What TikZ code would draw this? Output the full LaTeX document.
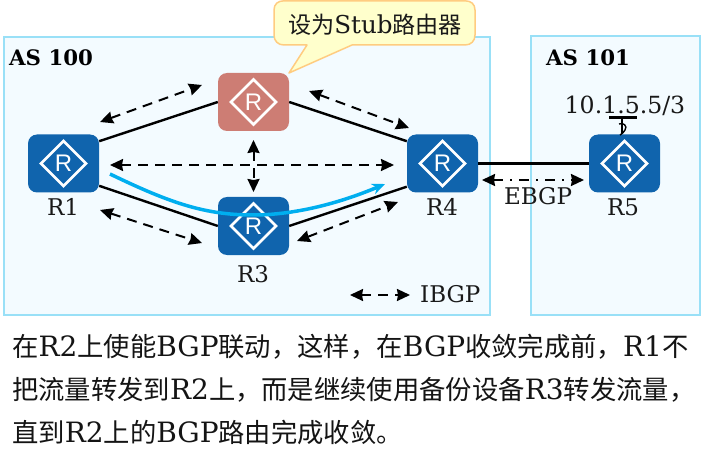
\documentclass[tikz,border=0pt]{standalone}
\usepackage{fontspec}
\setmainfont{DejaVu Serif}
\newfontfamily\cjk[Scale=0.94]{Noto Sans CJK SC}
\newfontfamily\iconfont{Liberation Sans}
\newcommand{\cj}[1]{{\cjk #1}}
\usetikzlibrary{arrows.meta}
\definecolor{asline}{HTML}{99E0F7}
\definecolor{asfill}{HTML}{F3FBFF}
\definecolor{routerblue}{HTML}{1064AD}
\definecolor{routerred}{HTML}{CD7D74}
\definecolor{flowblue}{HTML}{00AEEF}
\definecolor{calloutfill}{HTML}{FFFFCC}
\definecolor{calloutline}{HTML}{FFCC80}
\tikzset{
  x=1pt,y=-1pt,
  asbox/.style={draw=asline,fill=asfill,line width=2.2pt},
  router/.style={rectangle,rounded corners=9pt,fill=routerblue,minimum width=71pt,minimum height=58pt,inner sep=0pt,text=white,
    font=\iconfont\fontsize{24}{24}\selectfont,
    path picture={\draw[white,line width=2.8pt,sharp corners]
      ([xshift=-22.5pt]path picture bounding box.center)--([yshift=22.5pt]path picture bounding box.center)--([xshift=22.5pt]path picture bounding box.center)--([yshift=-22.5pt]path picture bounding box.center)--cycle;}},
  lbl/.style={font=\fontsize{23}{23}\selectfont,text=black!90,inner sep=0pt},
  asname/.style={font=\bfseries\fontsize{21.3}{21.3}\selectfont,inner sep=0pt,anchor=west},
  link/.style={line width=2.4pt,black},
  peer/.style={line width=2pt,black,dash pattern=on 10pt off 7pt,{Stealth[length=13pt,width=12pt,inset=1pt]}-{Stealth[length=13pt,width=12pt,inset=1pt]}},
  ebgp/.style={line width=2pt,black,dash pattern=on 10pt off 7pt on 2pt off 7pt,{Stealth[length=13pt,width=12pt,inset=1pt]}-{Stealth[length=13pt,width=12pt,inset=1pt]}},
  para/.style={font=\fontsize{28}{28}\selectfont,text=black!92,inner sep=0pt,anchor=west},
}
\begin{document}
\begin{tikzpicture}
\useasboundingbox (0,0) rectangle (704,465);
\fill[white] (0,0) rectangle (704,465);
\draw[asbox] (4,37) rectangle (490,315);
\draw[asbox] (531,36) rectangle (700,315);
\node[asname] (as100) at (9,58) {AS 100};
\node[asname] (as101) at (546,58) {AS 101};

\node[router] (r1) at (63.5,163.5) {R};
\node[router,fill=routerred] (r2) at (253.5,102) {R};
\node[router] (r3) at (253.5,226) {R};
\node[router] (r4) at (442.5,163.5) {R};
\node[router] (r5) at (624.5,163.5) {R};

\draw[link] (r1.32) -- (r2.180);
\draw[link] (r2.0) -- (r4.148);
\draw[link] (r1.-32) -- (r3.180);
\draw[link] (r3.0) -- (r4.-147);
\draw[line width=3.2pt] (r4.east) -- (r5.west);

\node[lbl] (l1) at (63,207) {R1};
\node[lbl] (l3) at (253,274) {R3};
\node[lbl] (l4) at (442,207) {R4};
\node[lbl] (l5) at (623,207) {R5};
\node[lbl] (lebgp) at (538,196) {EBGP};
\node[lbl,font=\fontsize{23.6}{23.6}\selectfont] (lip) at (625,106) {10.1.5.5/3};
\node[lbl,anchor=west] (libgp) at (420,294) {IBGP};

% free ends of the session arrows
\coordinate (a1) at (100,122); \coordinate (a2) at (202,85);
\coordinate (b1) at (309,91);  \coordinate (b2) at (409,128);
\coordinate (c1) at (110,165); \coordinate (c2) at (394,165);
\coordinate (d1) at (253.5,140); \coordinate (d2) at (253.5,192);
\coordinate (e1) at (100,210); \coordinate (e2) at (202,243);
\coordinate (f1) at (297,241); \coordinate (f2) at (398,202);
\coordinate (g1) at (482,180); \coordinate (g2) at (584,180);
\coordinate (h1) at (350,295); \coordinate (h2) at (410,295);
\draw[peer] (a1) -- (a2);
\draw[peer] (b1) -- (b2);
\draw[peer] (c1) -- (c2);
\draw[peer] (d1) -- (d2);
\draw[peer] (e1) -- (e2);
\draw[peer] (f1) -- (f2);
\draw[ebgp] (g1) -- (g2);
\draw[peer] (h1) -- (h2);

% antenna of R5
\coordinate (ant) at (622,118);
\draw[line width=2.2pt] (r5.north -| ant) -- (ant);
\draw[line width=3pt] (609,118) -- (637,118);
\draw[line width=1.4pt] (619,124) .. controls (623,122) and (628,126) .. (625,130) .. controls (624,132) and (622,134) .. (620,135);

% traffic flow
\coordinate (p1) at (110,174);
\coordinate (p2) at (385,184);
\draw[flowblue,line width=3.5pt,-{Stealth[length=13pt,width=11pt]}] (p1) .. controls (170,203) and (205,215) .. (253,215) .. controls (295,215) and (340,203) .. (p2);

% callout
\draw[fill=calloutfill,draw=calloutline,line width=1.5pt,line join=round]
  (284,0.8) -- (465,0.8) .. controls (471,0.8) and (475,4) .. (475,10) -- (475,35) .. controls (475,41) and (471,45) .. (465,45)
  -- (352,45) -- (289,73) -- (307,45) -- (284,45) .. controls (278,45) and (274,41) .. (274,35) -- (274,10) .. controls (274,4) and (278,0.8) .. (284,0.8) -- cycle;
\node[font=\fontsize{24.6}{24.6}\selectfont,inner sep=0pt,text=black!90] (call) at (375,25) {\cj{设为}Stub\cj{路由器}};

% explanation
\node[para] (t1) at (12,346.5) {\cj{在}R2\cj{上使能}BGP\cj{联动，这样，在}BGP\cj{收敛完成前，}R1\cj{不}};
\node[para] (t2) at (12,389.5) {\cj{把流量转发到}R2\cj{上，而是继续使用备份设备}R3\cj{转发流量，}};
\node[para] (t3) at (12,432) {\cj{直到}R2\cj{上的}BGP\cj{路由完成收敛。}};
\end{tikzpicture}
\end{document}
